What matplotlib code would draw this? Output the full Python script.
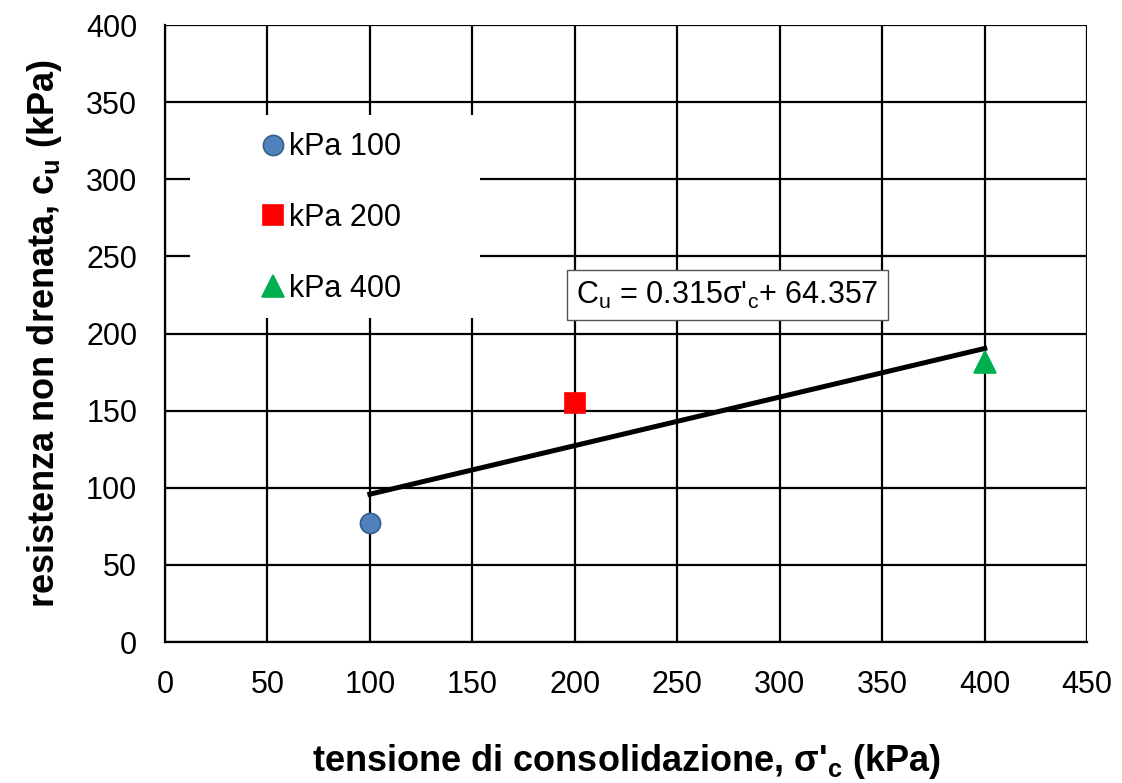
import numpy as np
import matplotlib.pyplot as plt
from matplotlib.patches import Rectangle

plt.rcParams['font.family'] = ['Liberation Sans', 'DejaVu Sans']

# dati
sigma_c = [100, 200, 400]
cu = [77.5, 155, 181.5]
labels = ["kPa 100", "kPa 200", "kPa 400"]
markers = ["o", "s", "^"]
colors = ["#4F81BD", "#FF0000", "#00B050"]
edges = ["#385D8A", "#FF0000", "#00B050"]

slope, intercept = 0.315, 64.357
x_fit = np.array([100, 400])

fig = plt.figure(figsize=(11.22, 7.83), dpi=100)
ax = fig.add_axes([0.147, 0.180, 0.822, 0.788])

ax.set_xlim(0, 450)
ax.set_ylim(0, 400)
ax.set_xticks(np.arange(0, 451, 50))
ax.set_yticks(np.arange(0, 401, 50))
ax.grid(True, color="black", linewidth=1.6)
ax.set_axisbelow(True)
for s in ax.spines.values():
    s.set_visible(False)
ax.spines["left"].set_visible(True)
ax.spines["bottom"].set_visible(True)
ax.spines["left"].set_linewidth(1.6)
ax.spines["bottom"].set_linewidth(1.6)
ax.tick_params(length=0, labelsize=22)
ax.tick_params(axis="y", pad=20)
ax.tick_params(axis="x", pad=20)

ax.plot(x_fit, slope * x_fit + intercept, color="black", linewidth=3.6, zorder=3)

for x, y, lab, m, c, e in zip(sigma_c, cu, labels, markers, colors, edges):
    ms = 16 if m == "^" else 14.5
    ax.plot(x, y, m, color=c, markeredgecolor=e, markersize=ms, label=lab, zorder=4,
            markeredgewidth=1.2)

# riquadro bianco dietro la legenda
ax.add_patch(Rectangle((0.027, 0.525), 0.315, 0.329, transform=ax.transAxes,
                       facecolor="white", edgecolor="none", zorder=2.5))

leg = ax.legend(loc="upper left", bbox_to_anchor=(0.106, 0.826), fontsize=22,
                frameon=False, handlelength=0.7, handletextpad=0.15, labelspacing=1.33,
                borderpad=0, borderaxespad=0)
leg.set_zorder(5)

ax.text(274.5, 225, r"C$_\mathregular{u}$ = 0.315σ'$_\mathregular{c}$+ 64.357", fontsize=22,
        ha="center", va="center", zorder=6,
        bbox=dict(boxstyle="square,pad=0.3", facecolor="white", edgecolor="#555555",
                  linewidth=1))

ax.set_xlabel(r"tensione di consolidazione, σ'$_\mathregular{c}$ (kPa)", fontsize=26,
              fontweight="bold", labelpad=30)
ax.set_ylabel(r"resistenza non drenata, c$_\mathregular{u}$ (kPa)", fontsize=26,
              fontweight="bold", labelpad=16)

fig.savefig("out.png", dpi=100)
